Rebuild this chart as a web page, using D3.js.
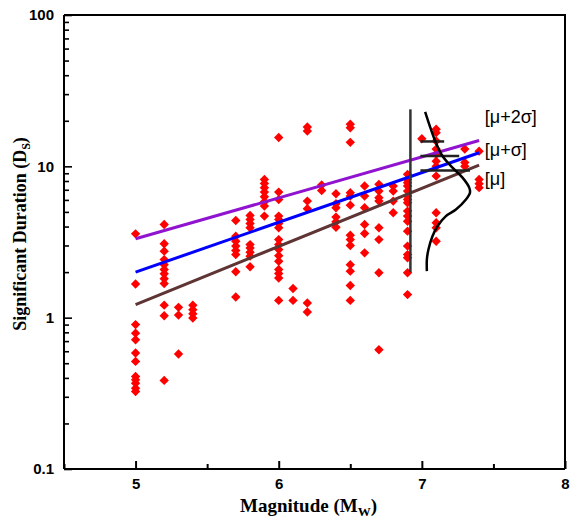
<!DOCTYPE html>
<html><head><meta charset="utf-8">
<script src="https://cdn.jsdelivr.net/npm/d3@7"></script>
<style>body{margin:0;background:#fff}svg{display:block}</style>
</head><body>
<svg id="c" width="573" height="520"></svg>
<script>
// ---- data ----
const columnMagnitudes = [5.0, 5.2, 5.3, 5.4, 5.7, 5.8, 5.9, 6.0, 6.1, 6.2, 6.3, 6.4, 6.5, 6.6, 6.7, 6.8, 6.9, 7.0, 7.1, 7.3, 7.4];
const columnDurations = [
  [3.58, 1.67, 0.90, 0.79, 0.715, 0.584, 0.514, 0.409, 0.389, 0.369, 0.342, 0.325],
  [4.13, 3.08, 2.75, 2.42, 2.24, 2.08, 1.95, 1.81, 1.68, 1.21, 1.03, 0.385],
  [1.17, 1.04, 0.575],
  [1.21, 1.13, 1.06, 0.995],
  [4.39, 3.45, 3.20, 2.97, 2.78, 2.61, 2.01, 1.37],
  [4.74, 4.46, 4.19, 3.93, 3.04, 2.89, 2.71, 2.55, 2.17],
  [8.2, 7.71, 7.23, 6.76, 6.3, 5.83, 5.46, 4.69],
  [15.5, 6.76, 6.04, 4.69, 4.46, 4.19, 3.93, 3.28, 3.04, 2.82, 2.57, 2.36, 2.08, 1.96, 1.83, 1.30],
  [1.56, 1.30],
  [18.2, 17.1, 5.89, 5.25, 1.25, 1.09],
  [7.52, 6.93],
  [6.59, 5.66, 5.33, 4.62, 4.30, 3.96],
  [19.0, 18.0, 14.4, 6.70, 6.36, 5.54, 3.51, 3.28, 3.0, 2.24, 2.03, 1.63, 1.30],
  [7.41, 6.36, 5.33, 4.13, 3.60, 2.68],
  [7.6, 6.86, 6.21, 5.89, 3.93, 3.28, 1.98, 0.614],
  [7.41, 6.86, 5.89, 4.93],
  [8.85, 8.2, 7.8, 7.41, 6.86, 6.36, 6.04, 5.75, 5.06, 4.69, 4.34, 3.73, 2.97, 2.61, 2.49, 1.98, 1.42],
  [15.2],
  [17.6, 16.7, 14.7, 13.0, 12.0, 10.8, 10.0, 8.62, 4.93, 4.24, 3.93, 3.20],
  [13.0, 10.6, 10.0],
  [12.6, 8.2, 7.68, 7.23]
];
const fitMagnitudes = [5.0, 7.4];
const fitMu = [1.22, 10.2];
const fitMuSigma = [2.0, 12.3];
const fitMu2Sigma = [3.32, 14.8];
const fitLabels = ["[μ+2σ]", "[μ+σ]", "[μ]"];
const fitLabelDurations = [19.2, 11.7, 7.5];
const barMagnitude = 6.92;
const barDurations = [2.0, 23.8];
const levelDurations = [14.6, 11.7, 9.4];
const levelEndMagnitudes = [7.156, 7.261, 7.336];
const levelStartMagnitude = 6.99;
const curveMagnitudes = [7.023, 7.063, 7.098, 7.144, 7.214, 7.284, 7.331, 7.336, 7.308, 7.238, 7.168, 7.109, 7.074, 7.046, 7.035, 7.035];
const curveDurations = [22.9, 17.6, 14.35, 11.7, 9.8, 8.42, 7.23, 6.70, 6.04, 5.19, 4.69, 4.02, 3.45, 2.82, 2.42, 2.03];
const xMajorTicks = [5, 6, 7, 8];
const xMinorTicks = [4.5, 5.5, 6.5, 7.5];
const yMajorTicks = [0.1, 1, 10, 100];
const yTickLabels = ["0.1", "1", "10", "100"];

// ---- chart ----
const L = 64, R = 565, T = 15, B = 469;
const svg = d3.select("#c");
const x = d3.scaleLinear().domain([4.5, 8]).range([L, R]);
const y = d3.scaleLog().domain([0.1, 100]).range([B, T]);

const yMinor = [];
[0.1, 1, 10].forEach(d => { for (let k = 2; k <= 9; k++) yMinor.push(d * k); });

// frame (top & right)
svg.append("path").attr("d", `M${L},${T}H${R}V${B}`).attr("fill", "none").attr("stroke", "#000").attr("stroke-width", 2);

// x axis
const gx = svg.append("g").attr("transform", `translate(0,${B})`);
gx.call(d3.axisBottom(x).tickValues(xMajorTicks).tickSize(-8).tickPadding(9).tickFormat(d3.format("d")));
gx.append("g").call(d3.axisBottom(x).tickValues(xMinorTicks).tickSize(-5).tickFormat(""));
gx.selectAll(".domain").attr("stroke-width", 2).attr("d", `M${L},0H${R}`);
gx.selectAll(".tick line").attr("stroke-width", 2);
gx.selectAll("text").attr("font-family", "'Liberation Sans', Arial, sans-serif").attr("font-weight", "bold").attr("font-size", 15).attr("fill", "#000");

// y axis
const gy = svg.append("g").attr("transform", `translate(${L},0)`);
gy.call(d3.axisLeft(y).tickValues(yMajorTicks).tickSize(-8).tickPadding(10).tickFormat((d, i) => yTickLabels[i]));
gy.append("g").call(d3.axisLeft(y).tickValues(yMinor).tickSize(-5).tickFormat(""));
gy.selectAll(".domain").attr("stroke-width", 2).attr("d", `M0,${T}V${B}`);
gy.selectAll(".tick line").attr("stroke-width", 1.6);
gy.selectAll("text").attr("font-family", "'Liberation Sans', Arial, sans-serif").attr("font-weight", "bold").attr("font-size", 15).attr("fill", "#000");

// axis titles
const xt = svg.append("text").attr("x", (L + R) / 2 - 6).attr("y", 512).attr("text-anchor", "middle")
  .attr("font-family", "'Liberation Serif', 'Times New Roman', serif").attr("font-weight", "bold").attr("font-size", 19);
xt.append("tspan").text("Magnitude (M");
xt.append("tspan").attr("font-size", 13).attr("dy", 4).text("W");
xt.append("tspan").attr("dy", -4).text(")");

const yt = svg.append("text").attr("transform", `translate(26,${(T + B) / 2 - 8}) rotate(-90)`).attr("text-anchor", "middle")
  .attr("font-family", "'Liberation Serif', 'Times New Roman', serif").attr("font-weight", "bold").attr("font-size", 18);
yt.append("tspan").text("Significant Duration (D");
yt.append("tspan").attr("font-size", 12).attr("dy", 4).text("S");
yt.append("tspan").attr("dy", -4).text(")");

// points
const points = [];
columnMagnitudes.forEach((m, i) => columnDurations[i].forEach(d => points.push({ m, d })));
const diamond = d3.symbol(d3.symbolSquare, 44);
svg.append("g").selectAll("path").data(points).join("path")
  .attr("d", diamond)
  .attr("transform", p => `translate(${x(p.m)},${y(p.d)}) rotate(45)`)
  .attr("fill", "#ff0000");

// fitted lines
const line = d3.line().x(d => x(d[0])).y(d => y(d[1]));
const fits = [[fitMu, "#5e3434"], [fitMuSigma, "#0000ff"], [fitMu2Sigma, "#9013cf"]];
fits.forEach(([vals, col]) => {
  svg.append("path").attr("d", line(fitMagnitudes.map((m, i) => [m, vals[i]])))
    .attr("fill", "none").attr("stroke", col).attr("stroke-width", 3);
});

// vertical bar
svg.append("path").attr("d", line(barDurations.map(d => [barMagnitude, d])))
  .attr("stroke", "#333").attr("stroke-width", 2.5).attr("fill", "none");

// level markers
levelDurations.forEach((d, i) => {
  svg.append("path").attr("d", line([[levelStartMagnitude, d], [levelEndMagnitudes[i], d]]))
    .attr("stroke", "#222").attr("stroke-width", 2.5).attr("fill", "none");
});

// distribution curve
svg.append("path").attr("d", d3.line().curve(d3.curveCatmullRom).x(d => x(d[0])).y(d => y(d[1]))(curveMagnitudes.map((m, i) => [m, curveDurations[i]])))
  .attr("fill", "none").attr("stroke", "#000").attr("stroke-width", 2.5);

// labels
fitLabels.forEach((t, i) => {
  svg.append("text").attr("x", x(7.44)).attr("y", y(fitLabelDurations[i])).text(t)
    .attr("font-family", "'Liberation Sans', Arial, sans-serif").attr("font-size", 18).attr("fill", "#000");
});
</script>
</body></html>
